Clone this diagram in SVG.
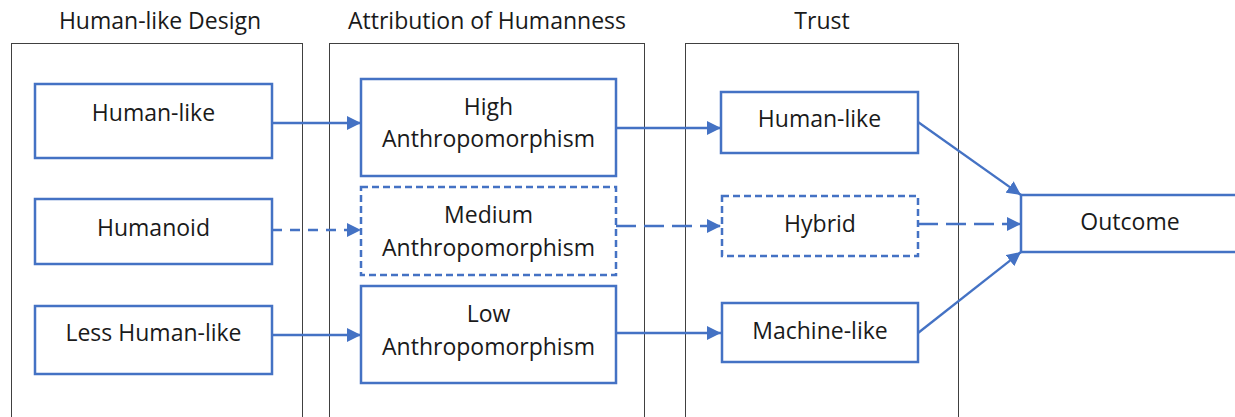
<svg xmlns="http://www.w3.org/2000/svg" width="1235" height="417" viewBox="0 0 1235 417">
<style>
.cont{fill:none;stroke:#404040;stroke-width:1}
.box{fill:#fff;stroke:#4472C4;stroke-width:2.5}
.dash{stroke-dasharray:7 4}
.t{font-family:"Open Sans","Noto Sans",sans-serif;font-size:23px;fill:#1a1a1a;text-anchor:middle}
.c{fill:none;stroke:#4472C4;stroke-width:2.3}
</style>
<defs>
<marker id="ah" viewBox="0 0 14 14" refX="14" refY="7" markerWidth="14" markerHeight="14" markerUnits="userSpaceOnUse" orient="auto">
<path d="M0,0 L14,7 L0,14 z" fill="#4472C4"/>
</marker>
</defs>
<rect width="1235" height="417" fill="#fff"/>
<g id="col-design">
<rect class="cont" x="11.5" y="43.5" width="291" height="400"/>
<text class="t" x="160" y="29">Human-like Design</text>
</g>
<g id="col-attribution">
<rect class="cont" x="329.5" y="43.5" width="315" height="400"/>
<text class="t" x="487" y="29">Attribution of Humanness</text>
</g>
<g id="col-trust">
<rect class="cont" x="685.5" y="43.5" width="273" height="400"/>
<text class="t" x="822" y="29">Trust</text>
</g>
<g id="connectors">
<line class="c" x1="272" y1="123" x2="361" y2="123" marker-end="url(#ah)"/>
<line class="c" x1="272" y1="230" x2="361" y2="230" stroke-dasharray="10 8" marker-end="url(#ah)"/>
<line class="c" x1="272" y1="335" x2="361" y2="335" marker-end="url(#ah)"/>
<line class="c" x1="616" y1="128" x2="721" y2="128" marker-end="url(#ah)"/>
<line class="c" x1="616" y1="226" x2="721" y2="226" stroke-dasharray="20 8" marker-end="url(#ah)"/>
<line class="c" x1="616" y1="333" x2="721" y2="333" marker-end="url(#ah)"/>
<line class="c" x1="918" y1="122" x2="1021" y2="195" marker-end="url(#ah)"/>
<line class="c" x1="918" y1="224" x2="1021" y2="224" stroke-dasharray="20 8" marker-end="url(#ah)"/>
<line class="c" x1="918" y1="333" x2="1021" y2="252" marker-end="url(#ah)"/>
</g>
<g id="n-humanlike">
<rect class="box" x="35" y="84" width="237" height="74"/>
<text class="t" x="153.5" y="121">Human-like</text>
</g>
<g id="n-humanoid">
<rect class="box" x="35" y="199" width="237" height="65"/>
<text class="t" x="153.5" y="236">Humanoid</text>
</g>
<g id="n-lesshuman">
<rect class="box" x="35" y="306" width="237" height="68"/>
<text class="t" x="153.5" y="341">Less Human-like</text>
</g>
<g id="n-high">
<rect class="box" x="361" y="79" width="255" height="97"/>
<text class="t" x="488.5" y="115">High</text>
<text class="t" x="488.5" y="147">Anthropomorphism</text>
</g>
<g id="n-medium">
<rect class="box dash" x="361" y="187" width="255" height="88"/>
<text class="t" x="488.5" y="223">Medium</text>
<text class="t" x="488.5" y="256">Anthropomorphism</text>
</g>
<g id="n-low">
<rect class="box" x="361" y="286" width="255" height="97"/>
<text class="t" x="488.5" y="322">Low</text>
<text class="t" x="488.5" y="355">Anthropomorphism</text>
</g>
<g id="n-trust-human">
<rect class="box" x="721" y="92" width="197" height="61"/>
<text class="t" x="819.5" y="127">Human-like</text>
</g>
<g id="n-hybrid">
<rect class="box dash" x="722" y="196" width="196" height="60"/>
<text class="t" x="820" y="232">Hybrid</text>
</g>
<g id="n-machine">
<rect class="box" x="722" y="303" width="196" height="59"/>
<text class="t" x="820" y="339">Machine-like</text>
</g>
<g id="n-outcome">
<rect class="box" x="1021" y="195" width="230" height="57"/>
<text class="t" x="1130" y="230">Outcome</text>
</g>
</svg>
